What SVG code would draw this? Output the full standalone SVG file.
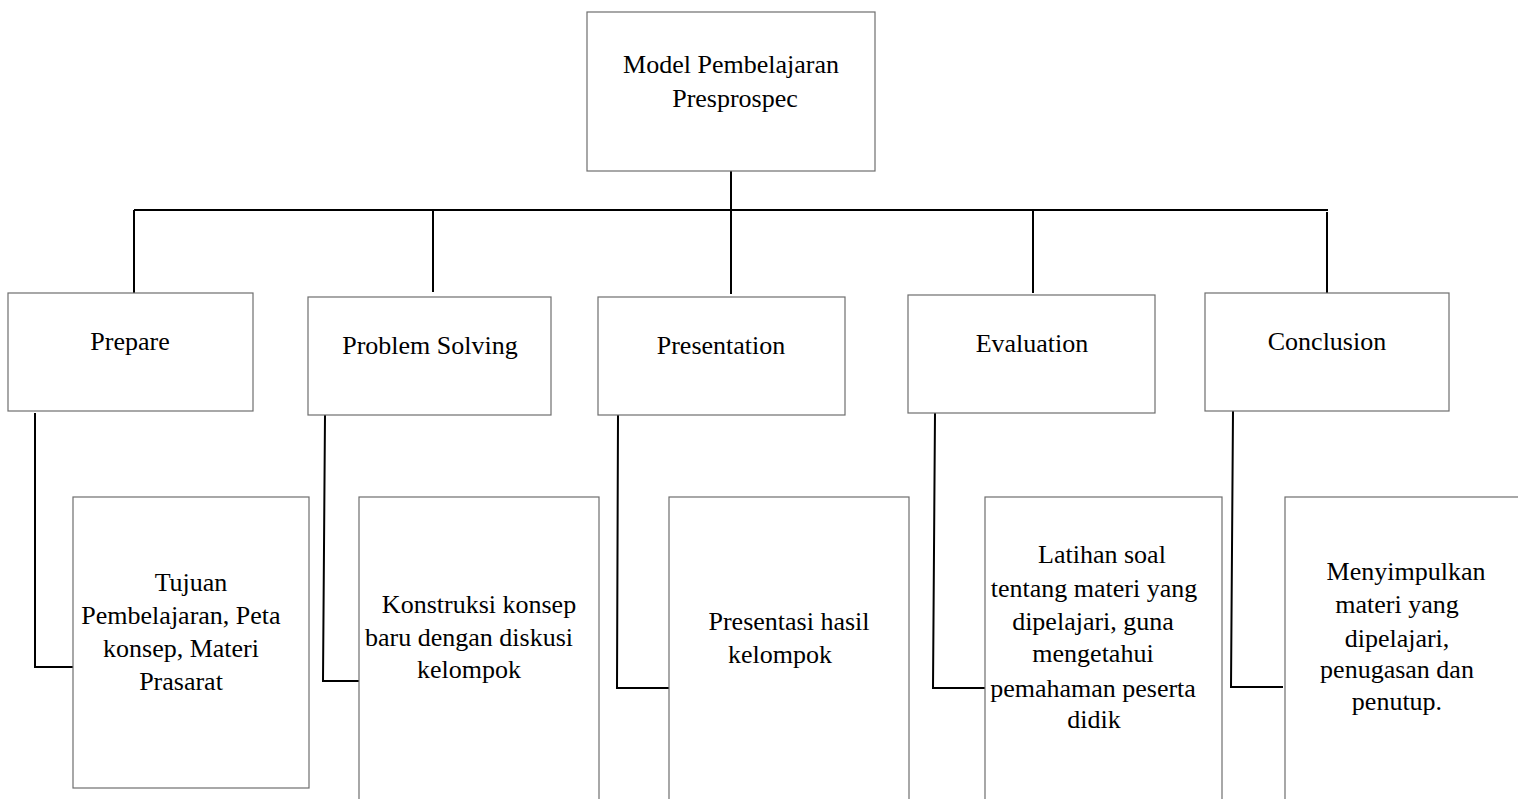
<svg xmlns="http://www.w3.org/2000/svg" width="1518" height="799" viewBox="0 0 1518 799">
<style>
.box{fill:#fff;stroke:#6e6e6e;stroke-width:1.2}
.conn{fill:none;stroke:#000;stroke-width:2}
text{font-family:"Liberation Serif","Times New Roman",serif;font-size:26px;fill:#000;text-anchor:middle}
</style>
<rect width="1518" height="799" fill="#fff"/>
<g id="connectors">
<line class="conn" x1="731" y1="171" x2="731" y2="210"/>
<line class="conn" x1="134" y1="210" x2="1328" y2="210"/>
<line class="conn" x1="134" y1="210" x2="134" y2="293"/>
<line class="conn" x1="433" y1="210" x2="433" y2="292"/>
<line class="conn" x1="731" y1="210" x2="731" y2="294"/>
<line class="conn" x1="1033" y1="210" x2="1033" y2="293"/>
<line class="conn" x1="1327" y1="212" x2="1327" y2="294"/>
<polyline class="conn" points="35,413 35,667 75,667"/>
<polyline class="conn" points="325,415 323,681 359,681"/>
<polyline class="conn" points="618,415 617,688 669,688"/>
<polyline class="conn" points="935,413 933,688 985,688"/>
<polyline class="conn" points="1233,411 1231,687 1283,687"/>
</g>
<g id="root">
<rect class="box" x="587" y="12" width="288" height="159"/>
<text x="731" y="73">Model Pembelajaran</text>
<text x="735" y="107">Presprospec</text>
</g>
<g id="prepare">
<rect class="box" x="8" y="293" width="245" height="118"/>
<text x="130" y="350">Prepare</text>
</g>
<g id="problem-solving">
<rect class="box" x="308" y="297" width="243" height="118"/>
<text x="430" y="354">Problem Solving</text>
</g>
<g id="presentation">
<rect class="box" x="598" y="297" width="247" height="118"/>
<text x="721" y="354">Presentation</text>
</g>
<g id="evaluation">
<rect class="box" x="908" y="295" width="247" height="118"/>
<text x="1032" y="352">Evaluation</text>
</g>
<g id="conclusion">
<rect class="box" x="1205" y="293" width="244" height="118"/>
<text x="1327" y="350">Conclusion</text>
</g>
<g id="detail-prepare">
<rect class="box" x="73" y="497" width="236" height="291"/>
<text x="191" y="591">Tujuan</text>
<text x="181" y="624">Pembelajaran, Peta</text>
<text x="181" y="657">konsep, Materi</text>
<text x="181" y="690">Prasarat</text>
</g>
<g id="detail-problem-solving">
<rect class="box" x="359" y="497" width="240" height="320"/>
<text x="479" y="613">Konstruksi konsep</text>
<text x="469" y="646">baru dengan diskusi</text>
<text x="469" y="678">kelompok</text>
</g>
<g id="detail-presentation">
<rect class="box" x="669" y="497" width="240" height="320"/>
<text x="789" y="630">Presentasi hasil</text>
<text x="780" y="663">kelompok</text>
</g>
<g id="detail-evaluation">
<rect class="box" x="985" y="497" width="237" height="320"/>
<text x="1102" y="563">Latihan soal</text>
<text x="1094" y="597">tentang materi yang</text>
<text x="1093" y="630">dipelajari, guna</text>
<text x="1093" y="662">mengetahui</text>
<text x="1093" y="697">pemahaman peserta</text>
<text x="1094" y="728">didik</text>
</g>
<g id="detail-conclusion">
<rect class="box" x="1285" y="497" width="260" height="320"/>
<text x="1406" y="580">Menyimpulkan</text>
<text x="1397" y="613">materi yang</text>
<text x="1397" y="647">dipelajari,</text>
<text x="1397" y="678">penugasan dan</text>
<text x="1397" y="710">penutup.</text>
</g>
</svg>
